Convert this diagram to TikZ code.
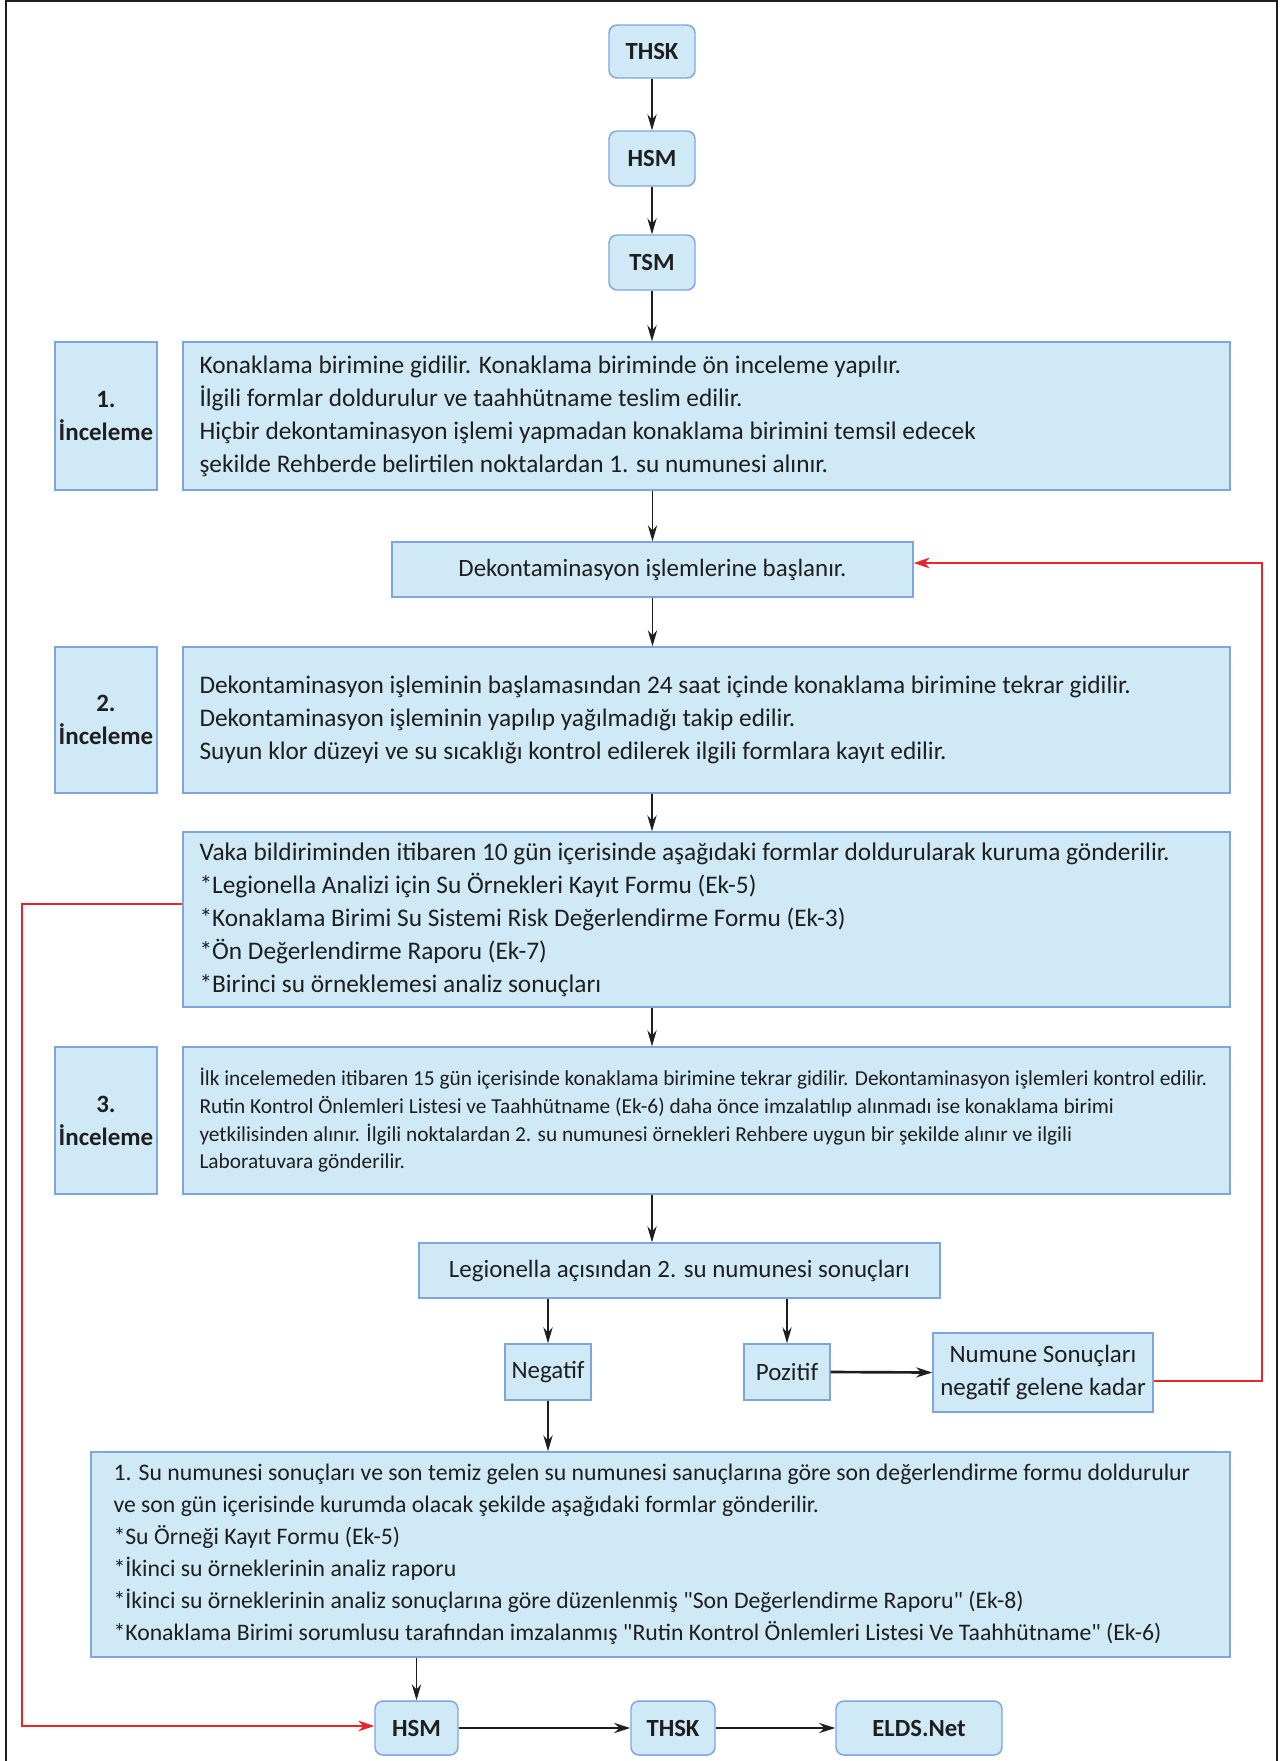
\documentclass[tikz,border=0pt]{standalone}
\usepackage{fontspec}
\setmainfont{Carlito}
\newfontfamily\qfont[Ligatures=ResetAll]{Carlito}
\usetikzlibrary{arrows.meta,calc}
\definecolor{boxfill}{HTML}{CFEAF6}
\definecolor{boxdraw}{HTML}{7FA6DC}
\definecolor{redline}{HTML}{E8252B}
\definecolor{ink}{HTML}{1E1E1E}
\newcommand{\sq}{{\qfont"}}
\begin{document}
\begin{tikzpicture}[x=0.75pt,y=-0.75pt,
  box/.style={draw=boxdraw, fill=boxfill, line width=1.1pt, inner sep=0pt, text=ink},
  rbox/.style={box, rounded corners=6pt, font=\fontsize{18.5}{22}\selectfont\bfseries},
  lbl/.style={box, font=\fontsize{18.7}{24.75}\selectfont\bfseries, align=center},
  txt/.style={font=\fontsize{19}{24.75}\selectfont, text=ink, align=left, inner sep=0pt},
  stxt/.style={font=\fontsize{16}{20.8}\selectfont, text=ink, align=left, inner sep=0pt},
  ftxt/.style={font=\fontsize{17.8}{24}\selectfont, text=ink, align=left, inner sep=0pt},
  ctxt/.style={box, font=\fontsize{18.7}{24.75}\selectfont, align=center},
  arr/.style={-{Stealth[length=12pt,width=7pt]}, line width=0.8pt, draw=ink},
  tarr/.style={-{Stealth[length=12pt,width=7.5pt]}, line width=2pt, draw=ink},
  redarr/.style={-{Stealth[length=12pt,width=8pt]}, line width=1.5pt, draw=redline},
]
\useasboundingbox (0,0) rectangle (1280,1761);
\fill[white] (0,0) rectangle (1280,1761);
% frame
\draw[line width=1.9pt, ink] (6,1761) -- (6,1) -- (1277,1) -- (1277,1761);

% top chain
\node[rbox, minimum width=64.5pt, minimum height=39.75pt] (t1) at (652,51.5) {THSK};
\node[rbox, minimum width=64.5pt, minimum height=41.25pt] (h1) at (652,158.5) {HSM};
\node[rbox, minimum width=64.5pt, minimum height=41.25pt] (tsm) at (652,262.5) {TSM};

% stage 1
\node[lbl, minimum width=76.5pt, minimum height=111pt] (l1) at (106,416) {1.\\İnceleme};
\node[box, minimum width=785.25pt, minimum height=111pt] (b1) at (706.5,416) {};
\node[txt, anchor=west] (b1t) at ($(b1.west)+(17,0)$) {Konaklama birimine gidilir. Konaklama biriminde ön inceleme yapılır.\\
İlgili formlar doldurulur ve taahhütname teslim edilir.\\
Hiçbir dekontaminasyon işlemi yapmadan konaklama birimini temsil edecek\\
şekilde Rehberde belirtilen noktalardan 1. su numunesi alınır.};

\node[ctxt, minimum width=390.75pt, minimum height=41.25pt] (dk) at (652.5,569.5) {Dekontaminasyon işlemlerine başlanır.};

% stage 2
\node[lbl, minimum width=76.5pt, minimum height=109.5pt] (l2) at (106,720) {2.\\İnceleme};
\node[box, minimum width=785.25pt, minimum height=109.5pt] (b2) at (706.5,720) {};
\node[txt, anchor=west] (b2t) at ($(b2.west)+(17,0)$) {Dekontaminasyon işleminin başlamasından 24 saat içinde konaklama birimine tekrar gidilir.\\
Dekontaminasyon işleminin yapılıp yağılmadığı takip edilir.\\
Suyun klor düzeyi ve su sıcaklığı kontrol edilerek ilgili formlara kayıt edilir.};

\node[box, minimum width=785.25pt, minimum height=131.25pt] (vk) at (706.5,919.5) {};
\node[txt, anchor=west] (vkt) at ($(vk.west)+(17,0)$) {Vaka bildiriminden itibaren 10 gün içerisinde aşağıdaki formlar doldurularak kuruma gönderilir.\\
*Legionella Analizi için Su Örnekleri Kayıt Formu (Ek-5)\\
*Konaklama Birimi Su Sistemi Risk Değerlendirme Formu (Ek-3)\\
*Ön Değerlendirme Raporu (Ek-7)\\
*Birinci su örneklemesi analiz sonuçları};

% stage 3
\node[lbl, minimum width=76.5pt, minimum height=110.25pt] (l3) at (106,1120.5) {3.\\İnceleme};
\node[box, minimum width=785.25pt, minimum height=110.25pt] (b3) at (706.5,1120.5) {};
\node[stxt, anchor=west] (b3t) at ($(b3.west)+(17,0)$) {İlk incelemeden itibaren 15 gün içerisinde konaklama birimine tekrar gidilir. Dekontaminasyon işlemleri kontrol edilir.\\
Rutin Kontrol Önlemleri Listesi ve Taahhütname (Ek-6) daha önce imzalatılıp alınmadı ise konaklama birimi\\
yetkilisinden alınır. İlgili noktalardan 2. su numunesi örnekleri Rehbere uygun bir şekilde alınır ve ilgili\\
Laboratuvara gönderilir.};

\node[ctxt, minimum width=390.75pt, minimum height=41.25pt] (lg) at (679.5,1270.5) {Legionella açısından 2. su numunesi sonuçları};
\node[ctxt, minimum width=64.5pt, minimum height=42pt] (ng) at (548,1372) {Negatif};
\node[ctxt, minimum width=64.5pt, minimum height=42pt] (pz) at (787,1372) {Pozitif};
\node[ctxt, minimum width=165pt, minimum height=59.25pt] (nm) at (1043,1372.5) {Numune Sonuçları\\negatif gelene kadar};

% final
\node[box, minimum width=854.25pt, minimum height=153.75pt] (fn) at (660.5,1554.5) {};
\node[ftxt, anchor=west] (fnt) at ($(fn.west)+(23,0)$) {1. Su numunesi sonuçları ve son temiz gelen su numunesi sanuçlarına göre son değerlendirme formu doldurulur\\
ve son gün içerisinde kurumda olacak şekilde aşağıdaki formlar gönderilir.\\
*Su Örneği Kayıt Formu (Ek-5)\\
*İkinci su örneklerinin analiz raporu\\
*İkinci su örneklerinin analiz sonuçlarına göre düzenlenmiş \sq Son Değerlendirme Raporu\sq{} (Ek-8)\\
*Konaklama Birimi sorumlusu tarafından imzalanmış \sq Rutin Kontrol Önlemleri Listesi Ve Taahhütname\sq{} (Ek-6)};

\node[rbox, minimum width=62.25pt, minimum height=40.5pt] (h2) at (416.5,1728) {HSM};
\node[rbox, minimum width=63pt, minimum height=40.5pt] (t2) at (673,1728) {THSK};
\node[rbox, minimum width=124.5pt, minimum height=40.5pt] (el) at (919,1728) {ELDS.Net};

% arrows
\draw[arr] (t1) -- (h1);
\draw[arr] (h1) -- (tsm);
\draw[arr] (tsm.south) -- (tsm.south |- b1.north);
\draw[arr] (b1.south -| dk.north) -- (dk.north);
\draw[arr] (dk.south) -- (dk.south |- b2.north);
\draw[arr] (b2.south -| t1.south) -- (vk.north -| t1.south);
\draw[arr] (vk.south -| t1.south) -- (b3.north -| t1.south);
\draw[arr] (b3.south -| t1.south) -- (lg.north -| t1.south);
\draw[arr] (lg.south -| ng.north) -- (ng.north);
\draw[arr] (lg.south -| pz.north) -- (pz.north);
\draw[tarr] (pz.east) -- (nm.west);
\draw[arr] (ng.south) -- (ng.south |- fn.north);
\draw[arr] (fn.south -| h2.north) -- (h2.north);
\draw[tarr] (h2.east) -- (t2.west);
\draw[tarr] (t2.east) -- (el.west);

% red feedback lines
\coordinate (rc1) at (1262,1381);
\coordinate (rc2) at (1262,563);
\draw[redarr] (nm.east |- rc1) -- (rc1) -- (rc2) -- (dk.east |- rc2);
\coordinate (lc1) at (22,904);
\coordinate (lc2) at (22,1726);
\draw[redarr] (vk.west |- lc1) -- (lc1) -- (lc2) -- (h2.west |- lc2);
\end{tikzpicture}
\end{document}
